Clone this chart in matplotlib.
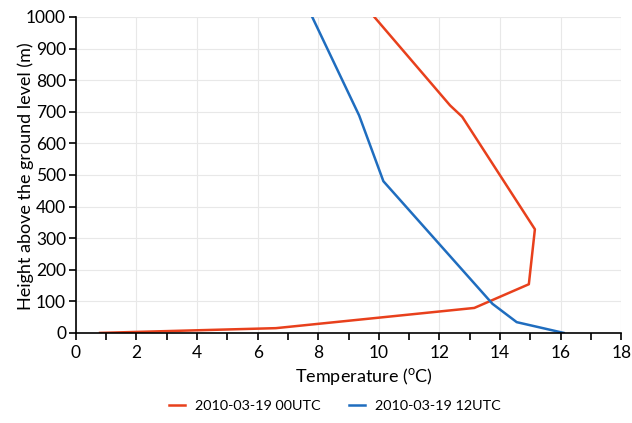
import matplotlib
matplotlib.use('Agg')
import matplotlib.pyplot as plt
from matplotlib.ticker import MultipleLocator

plt.rcParams['font.family'] = ['Lato', 'DejaVu Sans']
plt.rcParams['mathtext.fontset'] = 'custom'
plt.rcParams['mathtext.rm'] = 'Lato'

# 2010-03-19 00UTC profile
temp_00 = [0.8, 6.6, 13.15, 14.95, 15.15, 12.75, 12.35, 9.85]
height_00 = [0, 15, 79, 154, 328, 684, 720, 1000]

# 2010-03-19 12UTC profile
temp_12 = [16.1, 14.55, 13.75, 10.15, 9.35, 7.8]
height_12 = [0, 34, 92, 480, 688, 1000]

fig = plt.figure(figsize=(6.32, 4.23), dpi=100)
ax = fig.add_axes([0.120, 0.213, 0.863, 0.747])

ax.plot(temp_00, height_00, color='#e8401c', linewidth=1.8, label='2010-03-19 00UTC')
ax.plot(temp_12, height_12, color='#1f6dbf', linewidth=1.8, label='2010-03-19 12UTC')

ax.set_xlim(0, 18)
ax.set_ylim(0, 1000)
ax.xaxis.set_major_locator(MultipleLocator(2))
ax.xaxis.set_minor_locator(MultipleLocator(1))
ax.yaxis.set_major_locator(MultipleLocator(100))

ax.grid(color='#e8e8e8', linewidth=0.8)
ax.set_axisbelow(True)
for s in ['top', 'right']:
    ax.spines[s].set_visible(False)
for s in ['left', 'bottom']:
    ax.spines[s].set_color('black')
    ax.spines[s].set_linewidth(1.2)

ax.tick_params(axis='both', which='major', direction='out', length=5, width=1.2, labelsize=12.5)
ax.tick_params(axis='y', which='major', pad=2)
ax.tick_params(axis='x', which='minor', direction='out', length=5, width=1.2)

ax.set_xlabel('Temperature ($\\mathregular{^{o}}$C)', fontsize=13)
ax.set_ylabel('Height above the ground level (m)', fontsize=13)
ax.xaxis.set_label_coords(0.528, -0.105)
ax.yaxis.set_label_coords(-0.091, 0.495)
ax.yaxis.label.set_va('center')

fig.legend(loc='lower center', bbox_to_anchor=(0.53, -0.005), ncol=2, frameon=False,
           fontsize=10.4, handlelength=1.1, handletextpad=0.7, columnspacing=2.0)

fig.savefig('out.png', dpi=100)
